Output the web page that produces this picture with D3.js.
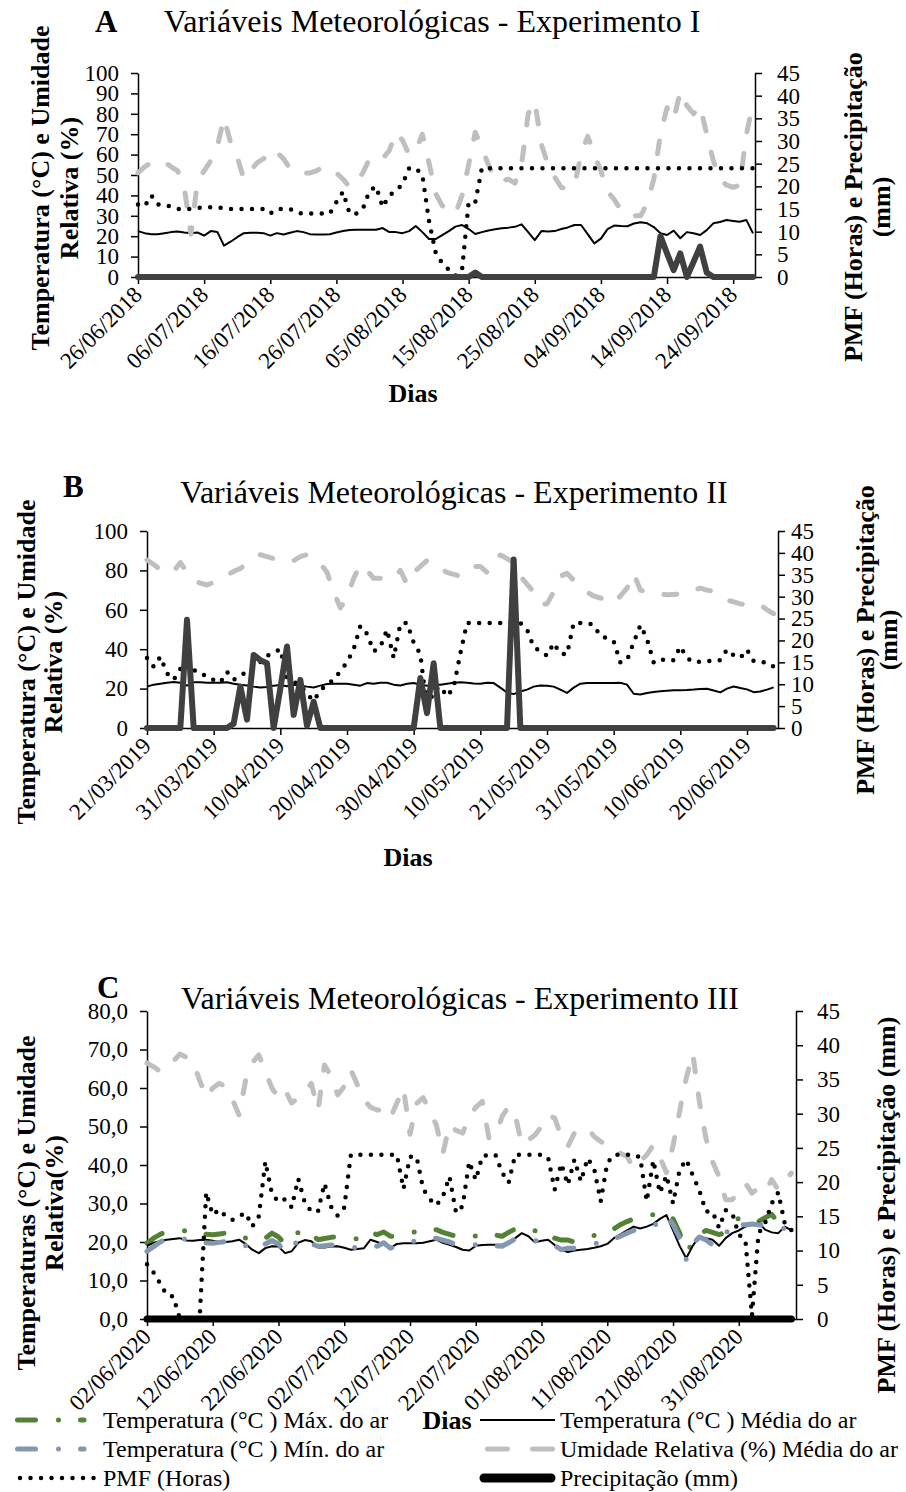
<!DOCTYPE html>
<html>
<head>
<meta charset="utf-8">
<script src="https://cdn.jsdelivr.net/npm/d3@7"></script>
<style>
  body { margin: 0; background: #fff; }
  svg text { font-family: "Liberation Serif", "Times New Roman", serif; fill: #000; }
</style>
</head>
<body>
<svg id="chart" width="906" height="1492"></svg>
<script>
// ---- Experimento I (26/06/2018 ...) ----
const datesA = ["26/06/2018", "06/07/2018", "16/07/2018", "26/07/2018", "05/08/2018", "15/08/2018", "25/08/2018", "04/09/2018", "14/09/2018", "24/09/2018"];
const tempA = [22.5,21.5,21,21,21.5,22,22.3,21.8,21.5,21.8,
  20.3,22.5,22.1,15.4,17.3,19.5,21.5,21.7,21.7,21.5,
  20.3,21.5,20.8,21.7,22.5,22,21,20.8,20.8,21,
  21.8,22.5,23,23.2,23.2,23.2,23.2,24,22,22,
  21.5,22.5,25,22,18.6,18.6,20.5,22.5,24.7,25.5,
  23.5,21.1,22,22.8,23.4,23.9,24.2,24.6,25.8,22,
  18.1,22.5,22.3,22.5,23.5,24.3,25.5,25.5,21,16.5,
  18.8,23.5,25.2,25,24.9,26.2,26.8,26.3,24.5,21.4,
  20.6,22.7,19,22,21.4,20.6,23,26.3,27,27.9,
  27.5,27.1,27.9,21.4];
const urA = [51,54,56,57,56.5,54,52,44,21,47,
  52,57,64,78,66,59,48,52,56,58,
  62.5,61,58,53,51,51,51,52,54,53,
  51,48,44,47,51,58,59,58,62,71,
  67,60,62,70,56,41,35,33,31,40,
  55,71,63,55,47.5,47,48,46,55,80,
  86,65,55,49,44,43,45,60,69,60,
  52,42,38,33,30,30,30,36,48,70,
  83,77,91,84,80,84,70,57,48,45,
  44,45,70,85];
const pmfA = [16,15.6,18,16,16,15.5,15,15,15,15.2,
  15.4,15.4,15.4,15.2,15,15,15,15,15,15,
  14,15,15,15,14.2,14,14,14,14,14,
  16.5,18.8,14,14,15,19,20,15.4,18,19,
  20.5,24,24,22.5,12.4,5.5,3,1.6,0.3,1.5,
  16.5,16.5,24,24,24,24,24,24,24,24,
  24,24,24,24,24,24,24,24,24,24,
  24,24,24,24,24,24,24,24,24,24,
  24,24,24,24,24,24,24,24,24,24,
  24,24,24,24];
const precA = [0,0,0,0,0,0,0,0,0,0,
  0,0,0,0,0,0,0,0,0,0,
  0,0,0,0,0,0,0,0,0,0,
  0,0,0,0,0,0,0,0,0,0,
  0,0,0,0,0,0,0,0,0,0,
  0,1,0,0,0,0,0,0,0,0,
  0,0,0,0,0,0,0,0,0,0,
  0,0,0,0,0,0,0,0,0,9,
  5.2,1.5,5.2,0,3.3,6.7,1,0,0,0,
  0,0,0,0];

// ---- Experimento II (21/03/2019 ...) ----
const datesB = ["21/03/2019", "31/03/2019", "10/04/2019", "20/04/2019", "30/04/2019", "10/05/2019", "21/05/2019", "31/05/2019", "10/06/2019", "20/06/2019"];
const tempB = [21,22,22.5,23,23.3,23,21.5,23.2,23.2,23,
  23,23,23.2,22.5,22,21.6,21,20.6,20.8,21.5,
  21.8,21.2,22,21.5,21,20.6,21.5,22.3,22.5,22.5,
  22.5,22,21.5,22.8,22.5,23,23,22,21.6,22.5,
  22.8,22,21.5,22,22,22.5,23,23.2,23,22.6,
  22.5,23,22.8,20.5,18,17.2,18.5,19.5,21,21.6,
  21.5,21,19.5,17.8,20.5,22.5,22.8,22.8,22.8,22.8,
  22.8,23,22,17.4,17,17.8,18.3,18.6,18.9,19.1,
  19.2,19.3,19.5,19.8,19.9,19,18.1,20,21.1,20.3,
  19.6,18.2,18.5,19.5,20.6];
const urB = [85.3,83,80.5,78.5,79.5,84,79,75,73.5,72.6,
  74,75.5,77.5,79.5,81,83.5,86,88,87,86,
  85.5,84.5,85,87,88,86,83.5,79,69,61,
  66,76,83,80,76,76,75.5,76,80,73,
  79,82,85,84,81,79,78,77,80,82,
  82,79,85,87.8,86,84,77,73,69,63,
  63,69,77,78.5,75,72,69,67,66,65,
  63.3,67,71,78.5,70,69,68.4,68,67.6,67.8,
  68,68.4,70,71,70,69.3,67,65,64,63,
  62.5,62.5,62.5,60,58];
const pmfB = [16,14,16.3,12.5,11,13.5,15,13.2,12.8,11.5,
  11,10.4,12.8,11,12,12.8,13.5,15,16.5,17.2,
  18,11.5,10.5,9.8,7.8,6.2,8.5,10,11,13,
  15,18,23.3,21.5,17.5,18.5,22.5,16,23.8,24,
  19.5,16.9,4.2,8.4,9.5,7.2,9.3,17,24,24,
  24,24,24,24,24,24,24,22.5,18.5,17.5,
  16.5,19.4,17,16.8,24,24,24,23.5,21,20.5,
  19.8,15,15.5,19.5,23.5,20.3,15,15.8,15.3,15.5,
  18.6,16,15,15.2,15.4,15.2,15.5,17.9,16.6,16,
  17.9,15.3,15,15,14];
const precB = [0,0,0,0,0,0,24.7,0,0,0,
  0,0,0,1,9.5,1.9,16.7,15.5,14.8,0,
  9,18.6,3,11,0.5,6,0,0,0,0,
  0,0,0,0,0,0,0,0,0,0,
  0,11.4,3.4,14.8,0,0,0,0,0,0,
  0,0,0,0,0,38.5,0,0,0,0,
  0,0,0,0,0,0,0,0,0,0,
  0,0,0,0,0,0,0,0,0,0,
  0,0,0,0,0,0,0,0,0,0,
  0,0,0,0,0];

// ---- Experimento III (02/06/2020 ...) ----
const datesC = ["02/06/2020", "12/06/2020", "22/06/2020", "02/07/2020", "12/07/2020", "22/07/2020", "01/08/2020", "11/08/2020", "21/08/2020", "31/08/2020"];
const tempMaxC = [19.7,21,22,22.8,23,23,22.9,22.5,22,22,
  21.9,22.1,22.3,22.6,22,21,20.6,20.5,21,22.3,
  21.3,19.5,20.5,22.5,23.2,22,20.6,20.9,21.2,21.5,
  21.5,21,20.8,21,22.5,21.9,22.6,21.5,21.5,22,
  22.3,22.8,23,23,23.2,22.5,22,21.5,21,21,
  21.6,21.8,22,21.8,21.5,22.5,23.4,24,23.5,22.9,
  22.5,22.5,21,20.5,20.5,20,20.5,21,21.7,22,
  22.5,23.4,24.5,25.3,26,26,26.5,27.1,27.3,27.3,
  26,22.3,17.5,19.5,22,23,22.5,21.9,22.5,24.5,
  26.2,25.5,25.5,25.3,26.3,27.2,25,24.5,23.5];
const tempMeanC = [19,19.8,20.2,20.6,20.8,21,20.4,20.3,20.5,20.6,
  20.3,20,20,20.2,20.6,19.5,18,17.1,18.4,18.9,
  18.8,17.1,17.6,19.8,20.5,20.2,18.6,18.6,18.8,18.9,
  18.5,18,18.2,18.4,20.6,20,19.3,18.4,19.5,19.7,
  19.7,19.7,19.8,20.2,20.6,19.8,19.3,18.7,18,17.8,
  19,19.2,19.3,19.3,19.3,20,21,22.3,21.5,19.9,
  20.3,20.6,19.2,18,17.4,17.8,18,18.2,18.5,18.9,
  19.5,21,22,23,24,23.5,24,24.7,26,27,
  23,19,15.8,19,21.5,21,20.6,19,21,22.3,
  23,24,24.5,25.1,23.2,22.5,22.3,24,23];
const tempMinC = [17.6,18.8,20,20.8,20.8,20.8,20.8,20.5,20,19.8,
  19.7,19.9,20.1,20.4,20,19,18,18.5,19.5,20.4,
  19.5,17.1,18.5,20.5,20.8,19.5,18.9,19,19.2,19.3,
  19,18.6,18.6,18.9,19,18.9,19.8,18.4,19,19.5,
  20,20.4,20.6,20.8,21,20.5,20,19.3,19,19,
  19.3,19.3,19.2,19,18.9,19.8,20.8,21,20.8,20.4,
  20,19.8,19.1,18,18.4,18.4,18.8,19.2,19.5,20,
  20.5,20.8,21.5,22.3,23,23.2,23.4,24,25.5,27,
  24.5,21,15.5,19.5,21.3,20.5,19.3,19.5,22,25.1,
  24.5,24.5,24.7,24.5,24.2,24,23.5,23.5,23];
const urC = [66.5,65.5,64.3,65.5,67,68.8,68,67,62,57.6,
  60,61.2,60.3,57,53,62,66.5,68.6,64.3,60,
  57.5,59.5,56.1,57.5,59.1,61.2,54.3,66,63,58.2,
  60.4,64.7,60.8,56.9,55,54.3,54.3,52.2,56.1,60,
  48,56,57.5,54,50.4,43,50.5,49,48.3,52.5,
  55,56.5,47,47.5,52.6,55.2,53,45.2,46.5,47.8,
  50,53,52.2,47.4,44.8,48.3,49,49.6,47.4,46.1,
  45,44.4,43,42.2,39.2,41,42.6,45.2,42,38,
  45,53.9,62.5,69,56.5,47,40.9,37,31,31,
  33,35.3,32.7,34,33,36.2,33.6,35.7,37.9];
const pmfC = [8,6.8,5.2,3.5,3.3,0,0,0,0,18.5,
  15.2,16,15,14.5,15,15.5,13.5,15,23,18.3,
  17.1,17.5,16.3,20.5,17,15.7,15.7,19.8,16.4,15.1,
  16.3,24,24,24,24,24,24,24,24,19,
  23.7,23.7,19,17.5,16.6,17.9,20.8,15.5,16.5,23,
  20.3,23.8,24,24,21.4,19.9,24,24,24,24,
  24,23.6,18.9,22.7,19.6,23.3,20.1,23.5,22,17.2,
  22.8,24,24,24,24,23.6,17.2,23.2,18.4,21,
  16.9,21.8,23.3,21,18.8,15.7,15.7,13.3,15.9,15.5,
  12.3,11.6,0.5,12.5,14,16.9,18.5,13.9,13];
const precC = [0,0,0,0,0,0,0,0,0,0,
  0,0,0,0,0,0,0,0,0,0,
  0,0,0,0,0,0,0,0,0,0,
  0,0,0,0,0,0,0,0,0,0,
  0,0,0,0,0,0,0,0,0,0,
  0,0,0,0,0,0,0,0,0,0,
  0,0,0,0,0,0,0,0,0,0,
  0,0,0,0,0,0,0,0,0,0,
  0,0,0,0,0,0,0,0,0,0,
  0,0,0,0,0,0,0,0,0];

const leftTicksA = [0, 10, 20, 30, 40, 50, 60, 70, 80, 90, 100];
const leftTicksB = [0, 20, 40, 60, 80, 100];
const leftTicksC = [0, 10, 20, 30, 40, 50, 60, 70, 80];
const rightTicks = [0, 5, 10, 15, 20, 25, 30, 35, 40, 45];

// line styles (Excel look)
const styles = {
  max:  { stroke: "#548235", width: 5, dash: "18 23 0 22", cap: "round" },
  min:  { stroke: "#8497b0", width: 5, dash: "18 23 0 22", cap: "round" },
  mean: { stroke: "#000", width: 2, dash: null, cap: "butt" },
  ur:   { stroke: "#bfbfbf", width: 5, dash: "13 22", cap: "round" },
  pmf:  { stroke: "#000", width: 4.5, dash: "0 10.5", cap: "round" },
  prec: { stroke: "#404040", width: 6, dash: null, cap: "round" },
  precC:{ stroke: "#000", width: 7, dash: null, cap: "round" }
};

const panels = [
  { letter: "A", title: "Variáveis Meteorológicas - Experimento I",
    left: 138, right: 755, top: 73, bottom: 277, xMax: 93.3, leftMax: 100, leftTicks: leftTicksA, leftFmt: d => d,
    dates: datesA,
    series: [["mean", tempA, "L"], ["ur", urA, "L"], ["pmf", pmfA, "R"], ["prec", precA, "R"]],
    letterPos: [95, 32], titlePos: [432, 32],
    yTitle: ["Temperatura (°C) e Umidade", "Relativa (%)"], yTitleX: [49, 78], yTitleY: 188,
    rTitle: ["PMF (Horas) e Precipitação", "(mm)"], rTitleX: [862, 890], rTitleY: 207,
    rLabelGap: 22, dias: [413, 402] },
  { letter: "B", title: "Variáveis Meteorológicas - Experimento II",
    left: 147, right: 778, top: 531, bottom: 728, xMax: 94.65, leftMax: 100, leftTicks: leftTicksB, leftFmt: d => d,
    dates: datesB,
    series: [["mean", tempB, "L"], ["ur", urB, "L"], ["pmf", pmfB, "R"], ["prec", precB, "R"]],
    letterPos: [63, 497], titlePos: [454, 503],
    yTitle: ["Temperatura (°C) e Umidade", "Relativa (%)"], yTitleX: [35, 62], yTitleY: 662,
    rTitle: ["PMF (Horas) e Precipitação", "(mm)"], rTitleX: [874, 897], rTitleY: 640,
    rLabelGap: 13, dias: [408, 866] },
  { letter: "C", title: "Variáveis Meteorológicas - Experimento III",
    left: 147, right: 796, top: 1011, bottom: 1319, xMax: 98.7, leftMax: 80, leftTicks: leftTicksC,
    leftFmt: d => d3.format(".1f")(d).replace(".", ","),
    dates: datesC,
    series: [["max", tempMaxC, "L"], ["mean", tempMeanC, "L"], ["min", tempMinC, "L"], ["ur", urC, "L"], ["pmf", pmfC, "R"], ["precC", precC, "R"]],
    letterPos: [97, 998], titlePos: [460, 1009],
    yTitle: ["Temperaturas (°C) e Umidade", "Relativa(%)"], yTitleX: [35, 63], yTitleY: 1203,
    rTitle: ["PMF (Horas) e Precipitação (mm)"], rTitleX: [895], rTitleY: 1205,
    rLabelGap: 21, dias: [447, 1429] }
];

const svg = d3.select("#chart");

function styleAxis(g) {
  g.attr("font-family", null).attr("font-size", null);
  g.selectAll("path.domain").attr("stroke", "#000").attr("stroke-width", 1.5);
  g.selectAll(".tick line").attr("stroke", "#000").attr("stroke-width", 1.5);
  g.selectAll(".tick text").attr("font-size", 23).attr("fill", "#000");
}

function drawPanel(p) {
  const x = d3.scaleLinear().domain([0, p.xMax]).range([p.left, p.right]);
  const yL = d3.scaleLinear().domain([0, p.leftMax]).range([p.bottom, p.top]);
  const yR = d3.scaleLinear().domain([0, 45]).range([p.bottom, p.top]);
  const g = svg.append("g");

  // axes
  const gx = g.append("g").attr("transform", `translate(0,${p.bottom})`)
    .call(d3.axisBottom(x).tickValues(d3.range(0, 91, 10)).tickFormat((d, i) => p.dates[i])
      .tickSize(7).tickSizeOuter(0));
  styleAxis(gx);
  gx.selectAll(".tick text")
    .attr("x", 0).attr("y", 0).attr("dy", 0)
    .attr("text-anchor", "end")
    .attr("transform", "translate(5,19) rotate(-45)");

  const gl = g.append("g").attr("transform", `translate(${p.left},0)`)
    .call(d3.axisLeft(yL).tickValues(p.leftTicks).tickFormat(p.leftFmt).tickSize(7).tickSizeOuter(0).tickPadding(12));
  styleAxis(gl);

  const gr = g.append("g").attr("transform", `translate(${p.right},0)`)
    .call(d3.axisRight(yR).tickValues(rightTicks).tickSize(7).tickSizeOuter(0).tickPadding(p.rLabelGap - 7));
  styleAxis(gr);

  // series
  p.series.forEach(([key, values, side]) => {
    const st = styles[key];
    const ys = side === "L" ? yL : yR;
    const line = d3.line().x((d, i) => x(i)).y(d => ys(d));
    g.append("path")
      .datum(values)
      .attr("d", line)
      .attr("fill", "none")
      .attr("stroke", st.stroke)
      .attr("stroke-width", st.width)
      .attr("stroke-linecap", st.cap)
      .attr("stroke-linejoin", "round")
      .attr("stroke-dasharray", st.dash);
  });

  // titles
  g.append("text").attr("x", p.letterPos[0]).attr("y", p.letterPos[1])
    .attr("font-size", 31).attr("font-weight", "bold").text(p.letter);
  g.append("text").attr("x", p.titlePos[0]).attr("y", p.titlePos[1])
    .attr("text-anchor", "middle").attr("font-size", 32).text(p.title);

  p.yTitle.forEach((t, i) => {
    g.append("text")
      .attr("transform", `translate(${p.yTitleX[i]},${p.yTitleY}) rotate(-90)`)
      .attr("text-anchor", "middle").attr("font-size", 26).attr("font-weight", "bold").text(t);
  });
  p.rTitle.forEach((t, i) => {
    g.append("text")
      .attr("transform", `translate(${p.rTitleX[i]},${p.rTitleY}) rotate(-90)`)
      .attr("text-anchor", "middle").attr("font-size", 26).attr("font-weight", "bold").text(t);
  });

  g.append("text").attr("x", p.dias[0]).attr("y", p.dias[1])
    .attr("text-anchor", "middle").attr("font-size", 26).attr("font-weight", "bold").text("Dias");
}

panels.forEach(drawPanel);

// legend (shared, under panel C)
const legendItems = [
  { key: "max",   label: "Temperatura (°C ) Máx. do ar",        x1: 17.5, x2: 84,  tx: 103, y: 1420 },
  { key: "min",   label: "Temperatura (°C ) Mín. do ar",        x1: 17.5, x2: 84,  tx: 103, y: 1449 },
  { key: "pmf",   label: "PMF (Horas)",                         x1: 20,   x2: 97,  tx: 103, y: 1478 },
  { key: "mean",  label: "Temperatura (°C ) Média do ar",       x1: 480,  x2: 555, tx: 560, y: 1420 },
  { key: "ur",    label: "Umidade Relativa (%) Média do ar",    x1: 487.5, x2: 552.5, tx: 560, y: 1449, dash: "20 25" },
  { key: "precC", label: "Precipitação (mm)",                   x1: 484,  x2: 551, tx: 560, y: 1478, width: 9 }
];

const lg = svg.append("g");
legendItems.forEach(it => {
  const st = styles[it.key];
  lg.append("line")
    .attr("x1", it.x1).attr("x2", it.x2).attr("y1", it.y).attr("y2", it.y)
    .attr("stroke", st.stroke)
    .attr("stroke-width", it.width || st.width)
    .attr("stroke-linecap", st.cap)
    .attr("stroke-dasharray", it.dash || st.dash);
  lg.append("text").attr("x", it.tx).attr("y", it.y + 8)
    .attr("font-size", 24).text(it.label);
});
</script>
</body>
</html>
